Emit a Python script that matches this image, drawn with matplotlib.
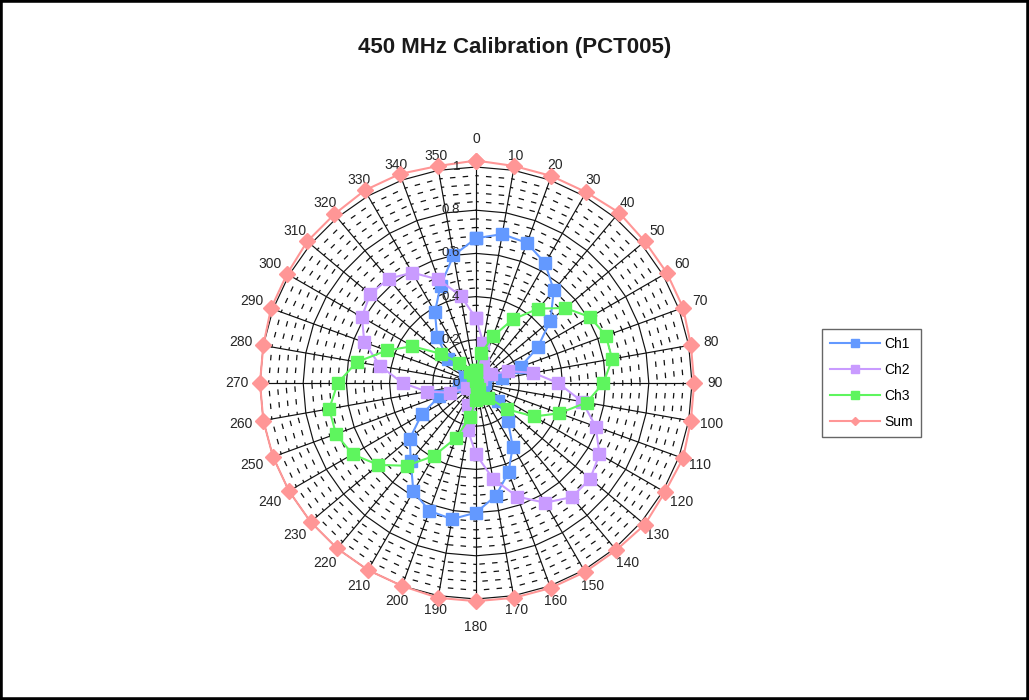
import numpy as np
import matplotlib
matplotlib.use("Agg")
import matplotlib.pyplot as plt
from matplotlib.lines import Line2D
from matplotlib.patches import Rectangle
from matplotlib import transforms

plt.rcParams['font.family'] = ['Liberation Sans', 'DejaVu Sans']

# bearing in degrees, one row per 10 degrees
angles = list(range(0, 360, 10))
ch1 = [0.67, 0.70, 0.69, 0.64, 0.56, 0.45, 0.33, 0.22, 0.12, 0.04, 0.01, 0.02,
       0.04, 0.13, 0.23, 0.34, 0.44, 0.53, 0.60, 0.64, 0.63, 0.58, 0.47, 0.40,
       0.29, 0.18, 0.08, 0.02, 0.01, 0.02, 0.06, 0.17, 0.28, 0.38, 0.48, 0.60]
ch2 = [0.30, 0.19, 0.10, 0.04, 0.02, 0.03, 0.08, 0.16, 0.27, 0.38, 0.50, 0.59,
       0.66, 0.69, 0.69, 0.64, 0.56, 0.45, 0.33, 0.22, 0.11, 0.03, 0.03, 0.01,
       0.05, 0.13, 0.23, 0.34, 0.45, 0.55, 0.61, 0.64, 0.63, 0.59, 0.51, 0.41]
ch3 = [0.06, 0.14, 0.23, 0.34, 0.45, 0.54, 0.61, 0.64, 0.64, 0.59, 0.52, 0.41,
       0.31, 0.19, 0.09, 0.03, 0.01, 0.03, 0.08, 0.16, 0.27, 0.39, 0.50, 0.59,
       0.66, 0.69, 0.69, 0.64, 0.56, 0.44, 0.34, 0.21, 0.12, 0.06, 0.04, 0.01]
total = [1.03, 1.02, 1.02, 1.02, 1.03, 1.02, 1.02, 1.02, 1.01, 1.01, 1.01, 1.02,
         1.01, 1.02, 1.01, 1.01, 1.01, 1.01, 1.01, 1.01, 1.00, 1.00, 1.00, 1.00,
         1.00, 1.00, 1.00, 1.00, 1.00, 1.01, 1.01, 1.02, 1.02, 1.03, 1.03, 1.02]
series_names = ['Ch1', 'Ch2', 'Ch3', 'Sum']
value_ticks = [0, 0.2, 0.4, 0.6, 0.8, 1.0]
value_labels = ['0', '0.2', '0.4', '0.6', '0.8', '1']

colors = ['#6399FF', '#C99BFF', '#5EF55E', '#FF9696']

W, H = 1029, 700
cx, cy, R = 476, 383, 216      # plot centre and radius of the 1.0 ring (px)
RMAX = 1.15

fig = plt.figure(figsize=(W / 100, H / 100), dpi=100)
rad = R * RMAX
ax = fig.add_axes([(cx - rad) / W, (H - cy - rad) / H, 2 * rad / W, 2 * rad / H],
                  projection='polar')
ax.set_theta_zero_location('N')
ax.set_theta_direction(-1)
ax.set_ylim(0, RMAX)
ax.set_axis_off()

th = np.deg2rad(angles)
th_c = np.append(th, th[0] + 2 * np.pi)

# spokes
for t in th:
    ax.plot([t, t], [0, 1], color='#111111', lw=0.85, zorder=1)

# major rings
for r in value_ticks[1:]:
    ax.plot(th_c, [r] * len(th_c), color='#111111', lw=0.85, zorder=1)

# dashed minor rings, drawn one chord at a time so a dash sits on each spoke
minor = [round(v, 2) for v in np.arange(0.04, 1.0, 0.04) if round(v, 2) not in value_ticks]
for r in minor:
    for i in range(len(th)):
        ax.plot([th_c[i], th_c[i + 1]], [r, r], color='#111111', lw=0.9,
                linestyle=(2.2, (4.4, 5.8)), zorder=1)

# series
for vals, c in zip([ch1, ch2, ch3], colors[:3]):
    v = np.append(vals, vals[0])
    ax.plot(th_c, v, color=c, lw=1.5, marker='s', ms=9, mec=c, mfc=c,
            zorder=3, clip_on=False)
v = np.append(total, total[0])
ax.plot(th_c, v, color=colors[3], lw=1.5, marker='D', ms=8, mec=colors[3],
        mfc=colors[3], zorder=4, clip_on=False)

# value labels left of the 0 spoke
shift = transforms.offset_copy(ax.transData, fig=fig, x=-16, y=0, units='dots')
for r, lab in zip(value_ticks, value_labels):
    ax.text(0, r, lab, transform=shift, ha='right', va='center', fontsize=9.5,
            color='#262626', zorder=5)

# category labels
for a, t in zip(angles, th):
    rp = 229 + 10 * abs(np.sin(t))
    if a in (0, 180):
        rp = 244
    ax.text(t, rp / R, str(a), ha='center', va='center', fontsize=10,
            color='#262626')

fig.text(515 / W, 1 - 47 / H, '450 MHz Calibration (PCT005)', ha='center',
         va='center', fontsize=16, fontweight='bold', color='#1a1a1a')

handles = [Line2D([], [], color=c, lw=1.5, marker='s', ms=6) for c in colors[:3]]
handles.append(Line2D([], [], color=colors[3], lw=1.5, marker='D', ms=4))
leg = fig.legend(handles, series_names, loc='upper left',
                 bbox_to_anchor=(822 / W, 1 - 329 / H), fontsize=10,
                 frameon=True, fancybox=False, edgecolor='#404040',
                 handlelength=3.6, handletextpad=0.3, labelspacing=0.85,
                 borderpad=0.6, borderaxespad=0)
leg.get_frame().set_linewidth(1.0)

fig.patches.append(Rectangle((0, 0), 1, 1, transform=fig.transFigure,
                             fill=False, edgecolor='black', lw=4))

fig.savefig('out.png', dpi=100)
